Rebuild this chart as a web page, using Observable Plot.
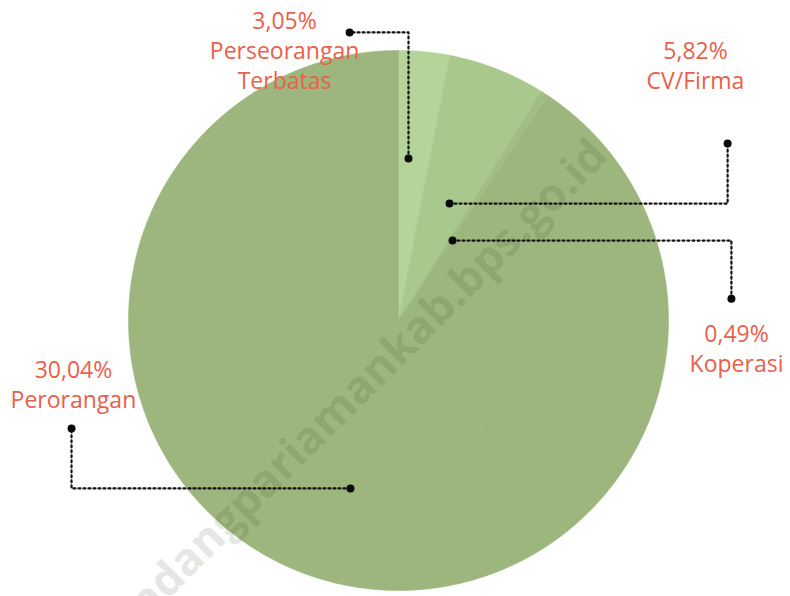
<!DOCTYPE html>
<html>
<head>
<meta charset="utf-8">
<script src="https://cdn.jsdelivr.net/npm/d3@7"></script>
<script src="https://cdn.jsdelivr.net/npm/@observablehq/plot@0.6"></script>
<style>
  html, body { margin: 0; padding: 0; background: #ffffff; }
  #chart svg { display: block; }
</style>
</head>
<body>
<div id="chart"></div>
<script>
// ---- data ----
const categories = ["Perseorangan Terbatas", "CV/Firma", "Koperasi", "Perorangan", "PT"];
const shares = [3.05, 5.82, 0.49, 30.04, 60.60];
const shareLabels = ["3,05%", "5,82%", "0,49%", "30,04%", ""];
const labelNames = ["Perseorangan\nTerbatas", "CV/Firma", "Koperasi", "Perorangan", ""];
const sliceColors = ["#b4d499", "#a9c98c", "#a2bd83", "#9db67d", "#9db67d"];
const watermarkText = "padangpariamankab.bps.go.id";

// ---- layout of the callouts (chart units, radius = 1) ----
const callouts = [
  {cat: "Perseorangan Terbatas", path: [[0.037, 0.60], [0.037, 1.067], [-0.181, 1.067]], label: [-0.422, 1.004]},
  {cat: "CV/Firma", path: [[0.189, 0.433], [1.219, 0.433], [1.219, 0.656]], label: [1.10, 0.948]},
  {cat: "Koperasi", path: [[0.200, 0.296], [1.233, 0.296], [1.233, 0.081]], label: [1.252, -0.10]},
  {cat: "Perorangan", path: [[-0.178, -0.622], [-1.211, -0.622], [-1.211, -0.40]], label: [-1.204, -0.233]}
];

// ---- build slice outlines from the shares ----
const arcs = d3.pie().sort(null).value(d => d.v)(categories.map((c, i) => ({c, v: shares[i]})));
const slicePts = [];
for (const a of arcs) {
  const c = a.data.c;
  slicePts.push({c, x: 0, y: 0});
  const n = Math.max(2, Math.ceil((a.endAngle - a.startAngle) / 0.004));
  for (let k = 0; k <= n; k++) {
    const t = a.startAngle + (a.endAngle - a.startAngle) * k / n;
    slicePts.push({c, x: Math.sin(t), y: Math.cos(t)});
  }
  slicePts.push({c, x: 0, y: 0});
}

const leaderPts = [];
const leaderDots = [];
const labelRows = [];
for (const co of callouts) {
  const i = categories.indexOf(co.cat);
  co.path.forEach(([x, y]) => leaderPts.push({c: co.cat, x, y}));
  leaderDots.push({x: co.path[0][0], y: co.path[0][1]});
  const last = co.path[co.path.length - 1];
  leaderDots.push({x: last[0], y: last[1]});
  labelRows.push({x: co.label[0], y: co.label[1], text: shareLabels[i] + "\n" + labelNames[i]});
}

const chart = Plot.plot({
  width: 790,
  height: 596,
  marginTop: 50,
  marginBottom: 6,
  marginLeft: 128,
  marginRight: 122,
  x: {domain: [-1, 1], axis: null},
  y: {domain: [-1, 1], axis: null},
  color: {domain: categories, range: sliceColors},
  style: {background: "#ffffff", overflow: "visible"},
  marks: [
    Plot.line(slicePts, {x: "x", y: "y", z: "c", fill: "c", stroke: "c", strokeWidth: 0.6, curve: "linear"}),
    Plot.text([watermarkText], {
      x: [0.745], y: [0.64], text: d => d, rotate: -45, textAnchor: "end",
      fontSize: 45, fontWeight: "bold", fontFamily: "Open Sans",
      fill: "#2c3f22", fillOpacity: 0.15
    }),
    Plot.line(leaderPts, {x: "x", y: "y", z: "c", stroke: "#111", strokeWidth: 2.2, strokeDasharray: "2,3", curve: "linear"}),
    Plot.dot(leaderDots, {x: "x", y: "y", r: 4, fill: "#0a0a0a", stroke: "none"}),
    Plot.text(labelRows, {
      x: "x", y: "y", text: "text",
      fontSize: 23, fontFamily: "Open Sans", fill: "#e9604b",
      lineHeight: 1.3, textAnchor: "middle"
    })
  ]
});
document.getElementById("chart").append(chart);
</script>
</body>
</html>
